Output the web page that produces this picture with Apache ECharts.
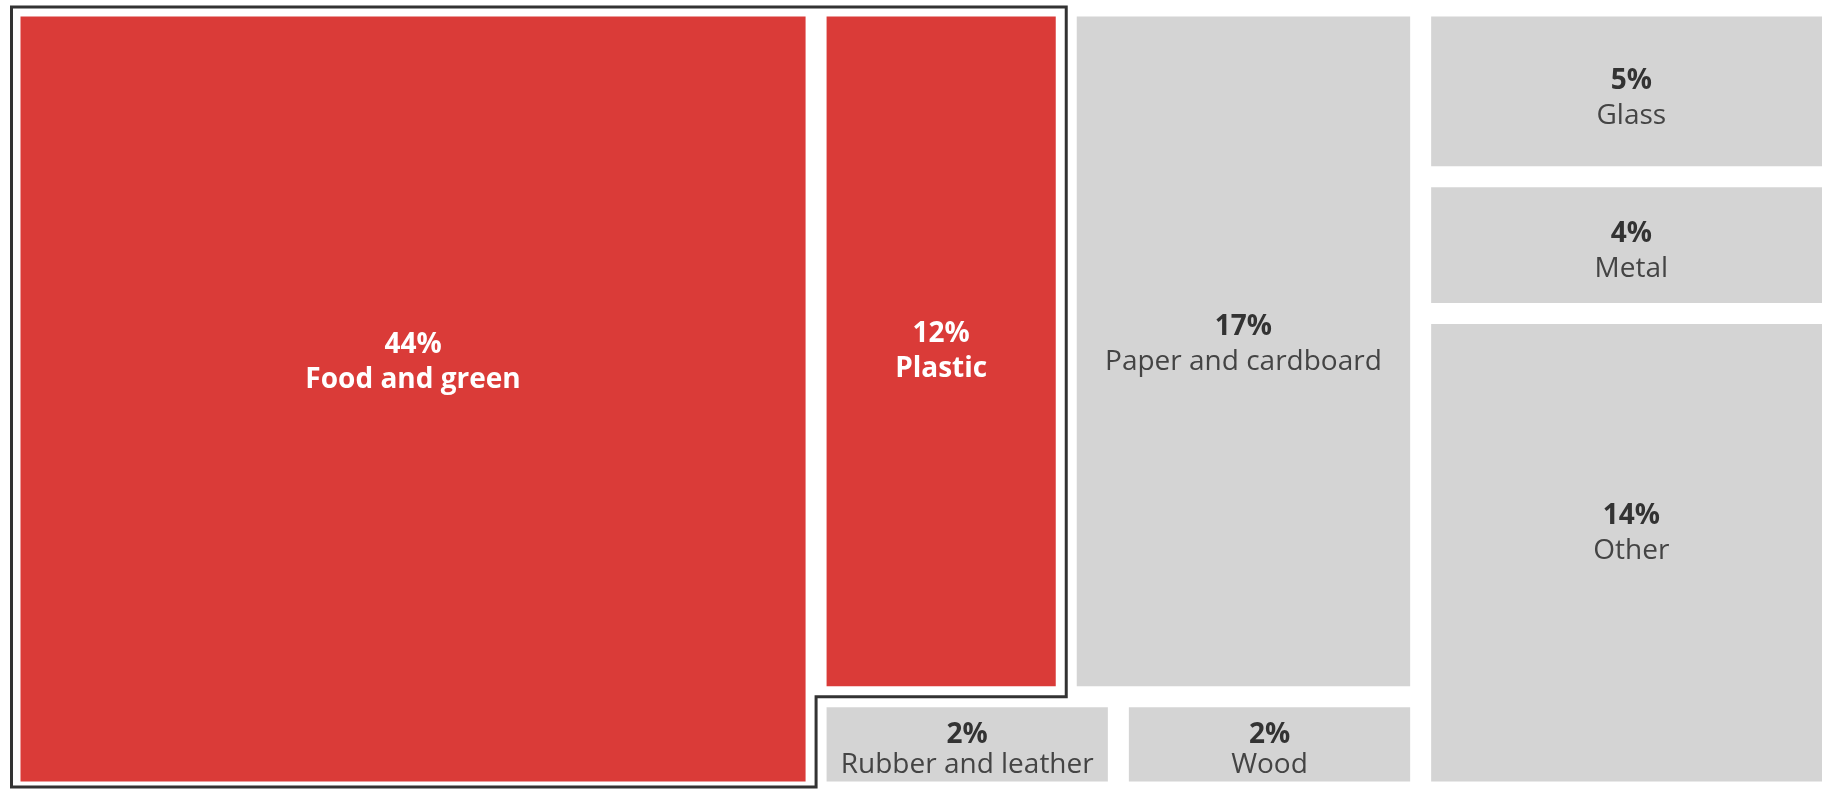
<!DOCTYPE html>
<html>
<head>
<meta charset="utf-8">
<script src="https://cdn.jsdelivr.net/npm/echarts@6/dist/echarts.min.js"></script>
<style>
html,body{margin:0;padding:0;background:#fff;overflow:hidden;width:1822px;height:790px}
#chart{width:1850px;height:790px}
</style>
</head>
<body>
<div id="chart"></div>
<script>
// ---- data ----
const categories = ['Food and green', 'Plastic', 'Paper and cardboard', 'Rubber and leather', 'Wood', 'Glass', 'Metal', 'Other'];
const shares = [44, 12, 17, 2, 2, 5, 4, 14];
const highlighted = ['Food and green', 'Plastic'];
// treemap nesting: 'h' splits left-to-right, 'v' splits top-to-bottom
const layoutTree = {dir: 'h', children: [
  'Food and green',
  {dir: 'v', children: [
    {dir: 'h', children: ['Plastic', 'Paper and cardboard']},
    {dir: 'h', children: ['Rubber and leather', 'Wood']}
  ]},
  {dir: 'v', children: ['Glass', 'Metal', 'Other']}
]};
// label vertical nudges (px)
const labelShift = {'Food and green': -36, 'Paper and cardboard': -7, 'Rubber and leather': 6, 'Wood': 6, 'Glass': 7, 'Metal': 6, 'Other': -19};

// ---- slice-and-dice layout in value space (0..100 x 0..100) ----
function nodeValue(n) {
  return typeof n === 'string' ? shares[categories.indexOf(n)] : n.children.reduce((s, c) => s + nodeValue(c), 0);
}
const cells = [];
function layout(n, x0, y0, x1, y1) {
  if (typeof n === 'string') { cells.push([x0, y0, x1, y1, categories.indexOf(n)]); return; }
  const total = nodeValue(n);
  let acc = 0;
  n.children.forEach(c => {
    const v = nodeValue(c);
    if (n.dir === 'h') {
      layout(c, x0 + (x1 - x0) * acc / total, y0, x0 + (x1 - x0) * (acc + v) / total, y1);
    } else {
      layout(c, x0, y0 + (y1 - y0) * acc / total, x1, y0 + (y1 - y0) * (acc + v) / total);
    }
    acc += v;
  });
}
layout(layoutTree, 0, 0, 100, 100);

const RED = '#DA3B38', GREY = '#D4D4D4';
const GAP = 10.5;
const FONT = 'Open Sans';
const VIEW_H = 790;

const chart = echarts.init(document.getElementById('chart'), null, {renderer: 'canvas'});

chart.setOption({
  animation: false,
  backgroundColor: '#fff',
  grid: {left: 10, top: 6, width: 1832, height: 786, containLabel: false, outerBoundsMode: 'none'},
  xAxis: {type: 'value', min: 0, max: 100, show: false},
  yAxis: {type: 'value', min: 0, max: 100, inverse: true, show: false},
  series: [
    {
      type: 'custom',
      coordinateSystem: 'cartesian2d',
      data: cells,
      clip: false,
      renderItem: function (params, api) {
        const p0 = api.coord([api.value(0), api.value(1)]);
        const p1 = api.coord([api.value(2), api.value(3)]);
        const idx = api.value(4);
        const name = categories[idx];
        const hi = highlighted.indexOf(name) >= 0;
        const x = Math.min(p0[0], p1[0]) + GAP;
        const y = Math.min(p0[1], p1[1]) + GAP;
        const w = Math.abs(p1[0] - p0[0]) - 2 * GAP;
        const h = Math.abs(p1[1] - p0[1]) - 2 * GAP;
        const lh = Math.min(35, h * 0.4);
        return {
          type: 'group',
          children: [
            {type: 'rect', shape: {x: x, y: y, width: w, height: h}, style: {fill: hi ? RED : GREY}},
            {
              type: 'text',
              x: x + w / 2,
              y: y + h / 2 + (labelShift[name] || 0),
              style: {
                text: '{p|' + shares[idx] + '%}\n{n|' + name + '}',
                align: 'center',
                verticalAlign: 'middle',
                rich: {
                  p: {fontFamily: FONT, fontWeight: 'bold', fontSize: 28, lineHeight: lh, fill: hi ? '#fff' : '#333', align: 'center'},
                  n: {fontFamily: FONT, fontWeight: hi ? 'bold' : 'normal', fontSize: 28, lineHeight: lh, fill: hi ? '#fff' : '#444', align: 'center'}
                }
              }
            }
          ]
        };
      }
    },
    {
      type: 'custom',
      coordinateSystem: 'cartesian2d',
      data: [[0]],
      clip: false,
      z: 5,
      renderItem: function (params, api) {
        const cellOf = n => cells.find(c => categories[c[4]] === n);
        const A = cellOf(highlighted[0]);
        const B = cellOf(highlighted[1]);
        const maxY = VIEW_H - 3;
        const pt = (vx, vy) => { const p = api.coord([vx, vy]); return [p[0], Math.min(p[1], maxY)]; };
        const pts = [
          pt(A[0], A[1]), pt(B[2], B[1]), pt(B[2], B[3]),
          pt(A[2], B[3]), pt(A[2], A[3]), pt(A[0], A[3])
        ];
        pts[0][0] += 1.5; pts[5][0] += 1.5;
        pts[0][1] += 1; pts[1][1] += 1;
        return {
          type: 'polygon',
          shape: {points: pts},
          style: {fill: 'none', stroke: '#333', lineWidth: 3}
        };
      }
    }
  ]
});
</script>
</body>
</html>
